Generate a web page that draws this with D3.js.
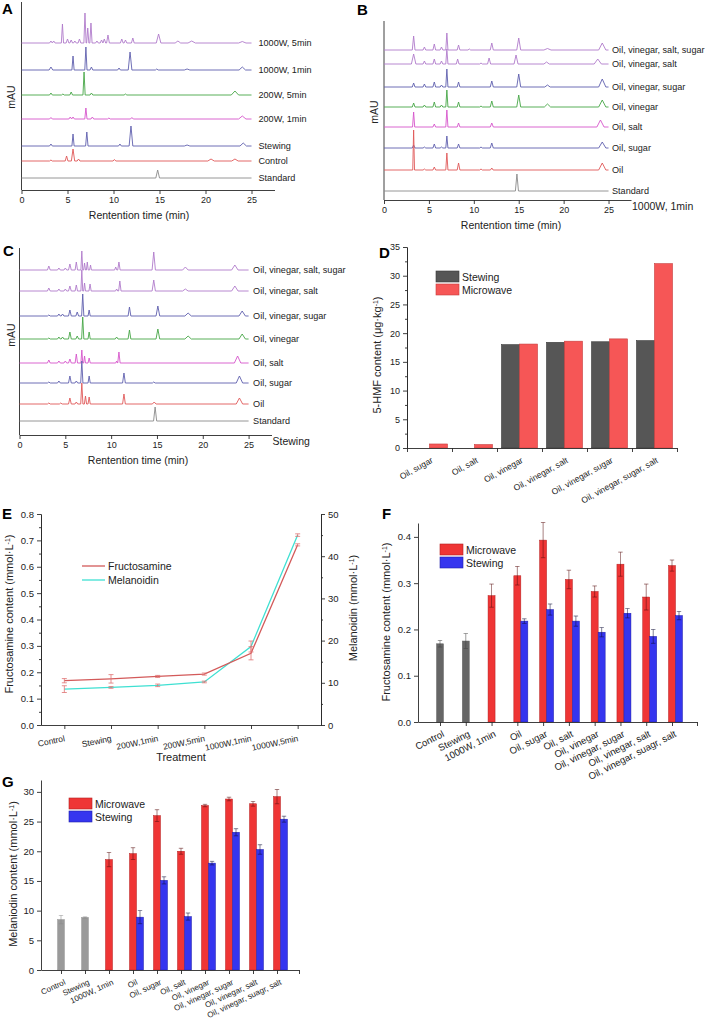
<!DOCTYPE html>
<html>
<head>
<meta charset="utf-8">
<script src="https://cdn.jsdelivr.net/npm/d3@7"></script>
<style>
    body { margin: 0; background: #fff; }
    svg { font-family: "Liberation Sans", Arial, Helvetica, sans-serif; }
</style>
</head>
<body>
<svg id="fig" width="708" height="1025"></svg>
<script>
// ---------- data: chromatograms (peaks are [time min, height mAU, half width min]) ----------
const timeTicks = [0, 5, 10, 15, 20, 25];

const aNames = ["1000W, 5min", "1000W, 1min", "200W, 5min", "200W, 1min", "Stewing", "Control", "Standard"];
const aOffsets = [147, 120, 95, 71, 44, 29, 12];
const aPeaks = [
    [[3.2, 2], [3.5, 2], [4.45, 19, 0.12], [5.0, 4], [5.4, 3], [5.8, 2], [6.3, 4], [6.9, 30, 0.12], [7.2, 15, 0.12], [7.55, 20, 0.12], [8.2, 2], [8.7, 3], [9.0, 4], [9.4, 8], [10.9, 4], [11.3, 3], [12.1, 5], [14.9, 9, 0.25], [17.0, 2, 0.3], [18.5, 2, 0.4], [24.0, 1.5, 0.4]],
    [[3.2, 3, 0.2], [5.6, 14, 0.12], [7.0, 23, 0.12], [7.6, 3], [10.6, 2], [11.8, 18, 0.2], [14.7, 1], [18.0, 1, 0.3], [24.0, 3, 0.35]],
    [[3.2, 2], [4.5, 1], [5.4, 3], [6.8, 23, 0.12], [7.6, 2], [11.3, 1], [23.2, 4, 0.4]],
    [[3.2, 1.5], [5.3, 2], [5.6, 2], [7.0, 11, 0.12], [7.7, 2], [9.5, 1], [12.0, 1.5], [24.0, 3, 0.4]],
    [[3.2, 2], [5.6, 12, 0.12], [7.1, 14, 0.13], [10.7, 2], [11.9, 20, 0.2], [18.0, 1, 0.3], [24.1, 3, 0.35]],
    [[3.2, 1], [4.9, 5], [5.6, 12, 0.18], [6.2, 2], [10.1, 1.5], [20.6, 2, 0.35], [23.2, 2, 0.35]],
    [[14.8, 8, 0.2]]
];

const bNames = ["Oil, vinegar, salt, sugar", "Oil, vinegar, salt", "Oil, vinegar, sugar", "Oil, vinegar", "Oil, salt", "Oil, sugar", "Oil", "Standard"];
const bOffsets = [150, 136, 113, 93, 73, 52, 30, 9];
const bPeaks = [
    [[3.3, 14], [4.5, 3], [5.6, 6], [6.4, 3], [7.0, 17, 0.12], [8.3, 5], [9.5, 1], [12.0, 7, 0.17], [15.0, 12, 0.22], [18.2, 1.5, 0.4], [24.3, 7, 0.4]],
    [[3.3, 10, 0.25], [4.5, 3], [5.6, 5], [6.4, 3], [7.0, 15, 0.12], [8.2, 5], [10.8, 1], [11.7, 6, 0.17], [14.7, 9, 0.22], [18.1, 2, 0.3], [23.8, 5, 0.4]],
    [[3.3, 4], [4.5, 3], [5.6, 5], [6.4, 2], [7.0, 18, 0.12], [8.3, 5], [12.0, 6, 0.17], [15.0, 13, 0.22], [18.2, 2, 0.3], [24.3, 8, 0.4]],
    [[3.3, 4], [4.5, 2], [5.6, 5], [6.4, 2], [7.0, 17, 0.12], [8.3, 5], [10.8, 1], [12.0, 6, 0.17], [15.0, 12, 0.22], [18.2, 3, 0.35], [24.3, 7, 0.4]],
    [[3.3, 15, 0.12], [5.6, 3], [7.0, 17, 0.12], [8.3, 4], [12.0, 4, 0.17], [24.1, 7, 0.4]],
    [[3.3, 3], [4.5, 1], [5.6, 4], [6.4, 1], [7.0, 12, 0.12], [8.3, 4], [10.8, 1], [12.0, 5, 0.17], [24.3, 6, 0.4]],
    [[3.3, 40, 0.1], [4.5, 1], [5.6, 3], [7.0, 17, 0.12], [8.3, 7], [10.8, 1], [12.0, 2], [24.3, 7, 0.4]],
    [[14.8, 17, 0.17]]
];

const cNames = bNames;
const cOffsets = [165, 144, 119, 96, 72, 52, 31, 14];
const cPeaks = [
    [[3.2, 4], [4.3, 2], [5.0, 2], [5.5, 6], [6.2, 8, 0.13], [6.8, 19, 0.1], [7.1, 7, 0.1], [7.4, 8, 0.1], [7.75, 5, 0.1], [10.5, 3, 0.12], [10.85, 8, 0.13], [14.65, 18, 0.18], [18.1, 3, 0.3], [23.5, 5, 0.35]],
    [[3.2, 3], [4.3, 2], [5.0, 2], [5.5, 5], [6.2, 6, 0.13], [6.8, 21, 0.1], [7.1, 8, 0.1], [7.7, 7, 0.12], [10.6, 2, 0.12], [10.95, 10, 0.13], [14.65, 11, 0.18], [18.1, 2, 0.3], [23.5, 5, 0.35]],
    [[3.2, 1], [4.3, 2], [4.7, 2], [5.5, 6], [6.3, 4], [6.9, 22, 0.12], [7.6, 6, 0.12], [12.0, 9, 0.15], [15.1, 10, 0.2], [18.4, 3, 0.35], [24.3, 5, 0.35]],
    [[3.2, 1], [4.3, 2], [4.7, 2], [5.5, 7], [6.3, 3], [6.9, 22, 0.12], [7.6, 7, 0.12], [10.6, 2], [12.0, 9, 0.15], [15.1, 10, 0.2], [18.4, 3, 0.35], [24.3, 5, 0.35]],
    [[3.2, 3], [4.3, 2], [5.0, 2], [5.5, 4], [6.2, 9, 0.13], [6.8, 13, 0.1], [7.1, 7, 0.1], [7.6, 5, 0.12], [10.6, 2, 0.1], [10.85, 11, 0.13], [23.8, 7, 0.35]],
    [[3.2, 1], [4.3, 2], [5.5, 7], [6.2, 2], [6.8, 22, 0.12], [7.6, 7, 0.12], [11.4, 10, 0.15], [14.65, 1], [24.0, 7, 0.35]],
    [[3.2, 1], [4.5, 1], [5.5, 6], [6.2, 2], [6.8, 21, 0.12], [7.2, 8, 0.12], [7.6, 7, 0.12], [11.4, 10, 0.15], [14.7, 2, 0.2], [24.0, 6, 0.35]],
    [[14.8, 14, 0.17]]
];

// ---------- data: D (5-HMF) ----------
const dCats = ["Oil, sugar", "Oil, salt", "Oil, vinegar", "Oil, vinegar, salt", "Oil, vinegar, sugar", "Oil, vinegar, sugar, salt"];
const dSeries = ["Stewing", "Microwave"];
const dStewing = [0, 0, 18.0, 18.4, 18.5, 18.7];
const dMicrowave = [0.7, 0.6, 18.1, 18.6, 19.0, 32.1];
const dTicks = [0, 5, 10, 15, 20, 25, 30, 35];

// ---------- data: E ----------
const eCats = ["Control", "Stewing", "200W,1min", "200W,5min", "1000W,1min", "1000W,5min"];
const eFructosamine = [0.168, 0.175, 0.184, 0.193, 0.272, 0.683];
const eFructosamineErr = [0.008, 0.016, 0.004, 0.004, 0.025, 0.004];
const eMelanoidin = [8.5, 8.9, 9.4, 10.2, 18.6, 45.0];
const eMelanoidinErr = [0.8, 0.2, 0.3, 0.2, 1.3, 0.3];
const eLeftTicks = [0, 0.1, 0.2, 0.3, 0.4, 0.5, 0.6, 0.7, 0.8];
const eRightTicks = [0, 10, 20, 30, 40, 50];

// ---------- data: F and G ----------
const fgCats = ["Control", "Stewing", "1000W, 1min", "Oil", "Oil, sugar", "Oil, salt", "Oil, vinegar", "Oil, vinegar, sugar", "Oil, vinegar, salt", "Oil, vinegar, suagr, salt"];

const fRef = [0.169, 0.175, null, null, null, null, null, null, null, null];
const fRefErr = [0.007, 0.016, null, null, null, null, null, null, null, null];
const fMicro = [null, null, 0.273, 0.316, 0.393, 0.308, 0.282, 0.341, 0.270, 0.338];
const fMicroErr = [null, null, 0.025, 0.020, 0.038, 0.020, 0.012, 0.026, 0.028, 0.012];
const fStew = [null, null, null, 0.218, 0.243, 0.218, 0.194, 0.235, 0.185, 0.230];
const fStewErr = [null, null, null, 0.005, 0.012, 0.011, 0.010, 0.010, 0.015, 0.009];
const fTicks = [0, 0.1, 0.2, 0.3, 0.4];

const gRef = [8.5, 8.85, null, null, null, null, null, null, null, null];
const gRefErr = [0.7, 0.1, null, null, null, null, null, null, null, null];
const gMicro = [null, null, 18.6, 19.6, 26.0, 20.0, 27.7, 28.8, 28.0, 29.2];
const gMicroErr = [null, null, 1.2, 1.0, 1.0, 0.5, 0.2, 0.3, 0.4, 1.2];
const gStew = [null, null, null, 8.9, 15.1, 9.0, 18.0, 23.2, 20.3, 25.4];
const gStewErr = [null, null, null, 1.1, 0.6, 0.6, 0.3, 0.6, 0.8, 0.5];
const gTicks = [0, 5, 10, 15, 20, 25, 30];

// ---------- styles ----------
const PURPLE = "#b07acb", INDIGO = "#5f5fae", GREEN = "#46a646", MAGENTA = "#d655cb", RED = "#e05858", GREY = "#8a8a8a";
const INK = "#2a2a2a";
const FONT = '"Liberation Sans", Arial, Helvetica, sans-serif';

const svg = d3.select("#fig");

function styleAxis(g, size) {
    g.attr("font-family", FONT).attr("font-size", size || 9.5);
    g.selectAll("path, line").attr("stroke", INK).attr("stroke-width", 0.9);
    g.selectAll("text").attr("fill", "#222");
}

function letter(x, y, t) {
    svg.append("text").attr("x", x).attr("y", y).attr("font-size", 15).attr("font-weight", "bold").text(t);
}

function vTitle(x, y, main, sup, tail, size) {
    const t = svg.append("text")
        .attr("transform", `translate(${x},${y}) rotate(-90)`)
        .attr("text-anchor", "middle")
        .attr("font-size", size || 11)
        .attr("fill", "#222");
    t.append("tspan").text(main);
    if (sup) {
        t.append("tspan").attr("baseline-shift", "super").attr("font-size", 7).text(sup);
        t.append("tspan").text(tail);
    }
    return t;
}

function tracePoints(peaks) {
    const pts = [[0, 0]];
    peaks.forEach(([t, h, w = 0.15]) => {
        pts.push([t - w, 0], [t, h], [t + w, 0]);
    });
    pts.push([25, 0]);
    return pts;
}

const traceColorsA = [PURPLE, INDIGO, GREEN, MAGENTA, INDIGO, RED, GREY];
const traceColorsBC = [PURPLE, PURPLE, INDIGO, GREEN, MAGENTA, INDIGO, RED, GREY];

function drawChrom(p) {
    const g = svg.append("g");
    const x = d3.scaleLinear().domain([0, 27.5]).range([p.left, p.right]);
    const y = d3.scaleLinear().domain([0, p.bottom - p.top]).range([p.bottom, p.top]);

    const ax = g.append("g")
        .attr("transform", `translate(0,${p.bottom})`)
        .call(d3.axisBottom(x).tickValues(timeTicks).tickSize(4).tickSizeOuter(0));
    styleAxis(ax, 9);

    g.append("line")
        .attr("x1", p.left).attr("x2", p.left)
        .attr("y1", p.top).attr("y2", p.bottom)
        .attr("stroke", INK).attr("stroke-width", 0.9);

    const line = d3.line().x(d => x(d[0])).y(d => y(d[1]));

    p.names.forEach((name, i) => {
        const off = p.offsets[i];
        const pts = tracePoints(p.peaks[i]).map(d => [d[0], d[1] + off]);
        g.append("path")
            .attr("d", line(pts))
            .attr("fill", "none")
            .attr("stroke", p.colors[i])
            .attr("stroke-width", 0.9)
            .attr("stroke-linejoin", "round");
        g.append("text")
            .attr("x", x(25) + p.gap)
            .attr("y", y(off))
            .attr("dy", "0.35em")
            .attr("font-size", 9.1)
            .attr("fill", "#222")
            .text(name);
    });

    g.append("text")
        .attr("x", p.titleX).attr("y", p.bottom + 29)
        .attr("text-anchor", "middle")
        .attr("font-size", 10.5)
        .attr("fill", "#222")
        .text("Rentention time (min)");

    vTitle(p.mauX, p.mauY, "mAU", null, null, 10.5);

    if (p.note) {
        g.append("text")
            .attr("x", p.right + 1).attr("y", p.bottom + 10)
            .attr("font-size", 10.5)
            .attr("fill", "#222")
            .text(p.note);
    }
}

// ---------- A, B, C ----------
letter(2, 14, "A");
drawChrom({ left: 21.5, right: 274.5, top: 2, bottom: 190, names: aNames, offsets: aOffsets, peaks: aPeaks,
    colors: traceColorsA, gap: 7, titleX: 139, mauX: 15, mauY: 97 });

letter(357, 15, "B");
drawChrom({ left: 384, right: 631, top: 21, bottom: 200, names: bNames, offsets: bOffsets, peaks: bPeaks,
    colors: traceColorsBC, gap: 3.5, titleX: 511, mauX: 378, mauY: 112, note: "1000W, 1min" });

letter(3, 256, "C");
drawChrom({ left: 19.5, right: 271.5, top: 248, bottom: 435, names: cNames, offsets: cOffsets, peaks: cPeaks,
    colors: traceColorsBC, gap: 4.5, titleX: 138, mauX: 15, mauY: 335, note: "Stewing" });

// ---------- D ----------
(function drawD() {
    const g = svg.append("g");
    const x = d3.scaleBand().domain(dCats).range([407, 677]).paddingInner(0.2).paddingOuter(0.1);
    const xs = d3.scaleBand().domain(dSeries).range([0, x.bandwidth()]);
    const y = d3.scaleLinear().domain([0, 35]).range([448, 247]);
    const fills = { Stewing: "#565656", Microwave: "#f65656" };
    const strokes = { Stewing: "#3a3a3a", Microwave: "#c63c3c" };
    const values = { Stewing: dStewing, Microwave: dMicrowave };

    dSeries.forEach(s => {
        g.selectAll(null)
            .data(dCats.map((c, i) => ({ c, v: values[s][i] })).filter(d => d.v > 0))
            .enter().append("rect")
            .attr("x", d => x(d.c) + xs(s))
            .attr("y", d => y(d.v))
            .attr("width", xs.bandwidth())
            .attr("height", d => y(0) - y(d.v))
            .attr("fill", fills[s])
            .attr("stroke", strokes[s])
            .attr("stroke-width", 0.6);
    });

    const minor = dTicks.slice(1).map((t, i) => (t + dTicks[i]) / 2);
    styleAxis(g.append("g").attr("transform", "translate(407,0)")
        .call(d3.axisLeft(y).tickValues(minor).tickSize(2).tickFormat("").tickSizeOuter(0)));
    styleAxis(g.append("g").attr("transform", "translate(407,0)")
        .call(d3.axisLeft(y).tickValues(dTicks).tickSize(4).tickSizeOuter(0)), 9);

    // x axis: ticks between groups, labels at group centres
    const bounds = dCats.map(c => x(c) - x.step() * x.paddingInner() / 2).concat([677]);
    const xb = d3.scaleLinear().domain([407, 677]).range([407, 677]);
    const xa = g.append("g").attr("transform", "translate(0,448)")
        .call(d3.axisBottom(xb).tickValues(bounds).tickSize(4).tickFormat("").tickSizeOuter(0));
    styleAxis(xa);

    g.selectAll(null).data(dCats).enter().append("text")
        .attr("transform", c => `translate(${x(c) + x.bandwidth() / 2 + 4},462) rotate(-29)`)
        .attr("text-anchor", "end")
        .attr("font-size", 8.5)
        .attr("fill", "#222")
        .text(c => c);

    vTitle(381, 355, "5-HMF content (μg·kg", "-1", ")", 11);

    dSeries.forEach((s, i) => {
        g.append("rect").attr("x", 436).attr("y", 271 + i * 13).attr("width", 23).attr("height", 11)
            .attr("fill", fills[s]).attr("stroke", strokes[s]).attr("stroke-width", 0.6);
        g.append("text").attr("x", 462).attr("y", 280.5 + i * 13).attr("font-size", 10.5).attr("fill", "#222").text(s);
    });
})();
letter(379, 258, "D");

// ---------- E ----------
(function drawE() {
    const g = svg.append("g");
    const x = d3.scalePoint().domain(eCats).range([41, 321]).padding(0.5);
    const yL = d3.scaleLinear().domain([0, 0.8]).range([725, 514]);
    const yR = d3.scaleLinear().domain([0, 50]).range([725, 514]);
    const FRU = "#d35a5a", MEL = "#3fe0d2", ERR = "#e07272";

    const minorL = eLeftTicks.slice(1).map((t, i) => (t + eLeftTicks[i]) / 2);
    const minorR = eRightTicks.slice(1).map((t, i) => (t + eRightTicks[i]) / 2);
    styleAxis(g.append("g").attr("transform", "translate(41,0)")
        .call(d3.axisLeft(yL).tickValues(minorL).tickSize(2).tickFormat("").tickSizeOuter(0)));
    styleAxis(g.append("g").attr("transform", "translate(41,0)")
        .call(d3.axisLeft(yL).tickValues(eLeftTicks).tickSize(4).tickFormat(d3.format(".1f")).tickSizeOuter(0)));
    styleAxis(g.append("g").attr("transform", "translate(321,0)")
        .call(d3.axisRight(yR).tickValues(minorR).tickSize(2).tickFormat("").tickSizeOuter(0)));
    styleAxis(g.append("g").attr("transform", "translate(321,0)")
        .call(d3.axisRight(yR).tickValues(eRightTicks).tickSize(4).tickSizeOuter(0)));
    const xa = g.append("g").attr("transform", "translate(0,725)")
        .call(d3.axisBottom(d3.scaleLinear().domain([41, 321]).range([41, 321]))
            .tickValues(eCats.map(c => x(c))).tickSize(4).tickFormat("").tickSizeOuter(0));
    styleAxis(xa);

    g.selectAll(null).data(eCats).enter().append("text")
        .attr("transform", c => `translate(${x(c) + 1},741) rotate(-12)`)
        .attr("text-anchor", "end")
        .attr("font-size", 8.5)
        .attr("fill", "#222")
        .text(c => c);

    const lineL = d3.line().x((d, i) => x(eCats[i])).y(d => yL(d));
    const lineR = d3.line().x((d, i) => x(eCats[i])).y(d => yR(d));
    g.append("path").attr("d", lineR(eMelanoidin)).attr("fill", "none").attr("stroke", MEL).attr("stroke-width", 1.3);
    g.append("path").attr("d", lineL(eFructosamine)).attr("fill", "none").attr("stroke", FRU).attr("stroke-width", 1.3);

    const errs = [];
    eCats.forEach((c, i) => {
        errs.push({ cx: x(c), lo: yL(eFructosamine[i] - eFructosamineErr[i]), hi: yL(eFructosamine[i] + eFructosamineErr[i]) });
        errs.push({ cx: x(c), lo: yR(eMelanoidin[i] - eMelanoidinErr[i]), hi: yR(eMelanoidin[i] + eMelanoidinErr[i]) });
    });
    errs.forEach(e => {
        g.append("line").attr("x1", e.cx).attr("x2", e.cx).attr("y1", e.lo).attr("y2", e.hi).attr("stroke", ERR).attr("stroke-width", 0.8);
        [e.lo, e.hi].forEach(v => g.append("line").attr("x1", e.cx - 2.5).attr("x2", e.cx + 2.5).attr("y1", v).attr("y2", v)
            .attr("stroke", ERR).attr("stroke-width", 0.8));
    });

    [["Fructosamine", FRU], ["Melanoidin", MEL]].forEach(([name, col], i) => {
        g.append("line").attr("x1", 82).attr("x2", 105).attr("y1", 566 + i * 14).attr("y2", 566 + i * 14)
            .attr("stroke", col).attr("stroke-width", 1.3);
        g.append("text").attr("x", 108).attr("y", 570 + i * 14).attr("font-size", 10.5).attr("fill", "#222").text(name);
    });

    g.append("text").attr("x", 181).attr("y", 761).attr("text-anchor", "middle").attr("font-size", 11).attr("fill", "#222").text("Treatment");
    vTitle(12.5, 614, "Fructosamine content (mmol·L", "-1", ")", 11);
    vTitle(357, 608, "Melanoidin (mmol·L", "-1", ")", 11);
})();
letter(2, 519, "E");

// ---------- F and G ----------
function drawGrouped(p) {
    const g = svg.append("g");
    const x = d3.scalePoint().domain(fgCats).range(p.xRange);
    const y = d3.scaleLinear().domain([0, p.yMax]).range([p.bottom, p.top]);
    const bw = 7;
    const series = [
        { vals: p.ref, errs: p.refErr, dx: -bw / 2, fill: p.refColor, stroke: p.refColor, err: p.refErrColor },
        { vals: p.micro, errs: p.microErr, dx: -bw / 2, fill: "#ef3535", stroke: "#b32020", err: "#5a1010" },
        { vals: p.stew, errs: p.stewErr, dx: bw / 2, fill: "#3535ef", stroke: "#2020a8", err: "#10103a" }
    ];

    series.forEach(s => {
        const rows = fgCats.map((c, i) => ({ c, v: s.vals[i], e: s.errs[i] })).filter(d => d.v != null);
        g.selectAll(null).data(rows).enter().append("rect")
            .attr("x", d => x(d.c) + s.dx)
            .attr("y", d => y(d.v))
            .attr("width", bw)
            .attr("height", d => y(0) - y(d.v))
            .attr("fill", s.fill)
            .attr("stroke", s.stroke)
            .attr("stroke-width", 0.5);
        rows.forEach(d => {
            const cx = x(d.c) + s.dx + bw / 2;
            const lo = y(d.v - d.e), hi = y(d.v + d.e);
            g.append("line").attr("x1", cx).attr("x2", cx).attr("y1", lo).attr("y2", hi)
                .attr("stroke", s.err).attr("stroke-width", 0.7).attr("opacity", 0.75);
            [lo, hi].forEach(v => g.append("line").attr("x1", cx - 2.2).attr("x2", cx + 2.2).attr("y1", v).attr("y2", v)
                .attr("stroke", s.err).attr("stroke-width", 0.7).attr("opacity", 0.75));
        });
    });

    styleAxis(g.append("g").attr("transform", `translate(${p.left},0)`)
        .call(d3.axisLeft(y).tickValues(p.ticks).tickSize(4).tickFormat(p.fmt).tickSizeOuter(0)), 9.5);
    const xl = d3.scaleLinear().domain([p.left, p.right]).range([p.left, p.right]);
    styleAxis(g.append("g").attr("transform", `translate(0,${p.bottom})`)
        .call(d3.axisBottom(xl).tickValues(fgCats.map(c => x(c)).concat([p.right])).tickSize(4).tickFormat("").tickSizeOuter(0)));

    g.selectAll(null).data(fgCats).enter().append("text")
        .attr("transform", c => `translate(${x(c) + 5},${p.bottom + 14}) rotate(${p.labelAngle})`)
        .attr("text-anchor", "end")
        .attr("font-size", p.labelSize)
        .attr("fill", "#222")
        .text(c => c);

    [["Microwave", "#ef3535", "#b32020"], ["Stewing", "#3535ef", "#2020a8"]].forEach(([name, fill, stroke], i) => {
        g.append("rect").attr("x", p.legX).attr("y", p.legY + i * 13).attr("width", 23).attr("height", 11)
            .attr("fill", fill).attr("stroke", stroke).attr("stroke-width", 0.6);
        g.append("text").attr("x", p.legX + 26).attr("y", p.legY + 9.5 + i * 13).attr("font-size", 10.5).attr("fill", "#222").text(name);
    });

    vTitle(p.titleX, p.titleY, p.title, "-1", ")", 11);
}

drawGrouped({ left: 418, right: 697, bottom: 722, top: 523, yMax: 0.43, xRange: [440, 672],
    ref: fRef, refErr: fRefErr, micro: fMicro, microErr: fMicroErr, stew: fStew, stewErr: fStewErr,
    refColor: "#666666", refErrColor: "#444", ticks: fTicks, fmt: d3.format(".1f"),
    labelSize: 9.6, labelAngle: -27,
    legX: 440, legY: 544, title: "Fructosamine content (mmol·L", titleX: 390, titleY: 622 });
letter(382, 519, "F");

drawGrouped({ left: 41, right: 299, bottom: 970, top: 780, yMax: 32, xRange: [61, 277],
    ref: gRef, refErr: gRefErr, micro: gMicro, microErr: gMicroErr, stew: gStew, stewErr: gStewErr,
    refColor: "#9a9a9a", refErrColor: "#8a8a8a", ticks: gTicks, fmt: d3.format("d"),
    labelSize: 8, labelAngle: -25,
    legX: 69, legY: 798, title: "Melaniodin content (mmol·L", titleX: 17, titleY: 874 });
letter(2, 787, "G");
</script>
</body>
</html>
